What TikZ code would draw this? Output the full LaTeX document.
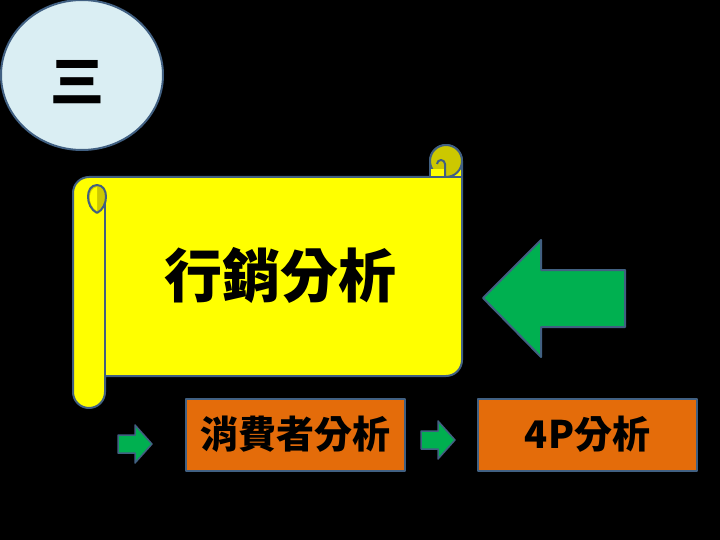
\documentclass[tikz,border=0pt]{standalone}
\usepackage{fontspec}
\newfontfamily\cjk{Noto Sans CJK TC}
\definecolor{edge}{RGB}{65,96,130}
\definecolor{sky}{RGB}{218,238,243}
\definecolor{paper}{RGB}{255,255,0}
\definecolor{curl}{RGB}{204,200,0}
\definecolor{leaf}{RGB}{0,176,80}
\definecolor{rust}{RGB}{228,108,10}
\tikzset{
outline/.style={draw=edge,line width=2pt,line join=round},
word/.style={font=\cjk\bfseries,text=black,inner sep=0pt},
box/.style={outline,fill=rust,minimum width=219pt,minimum height=72pt,font=\cjk\bfseries\fontsize{38}{38}\selectfont}
}
\begin{document}
\begin{tikzpicture}[x=1pt,y=-1pt]

\fill[black] (0,0) rectangle (720,540);
\useasboundingbox (0,0) rectangle (720,540);

\draw[outline,fill=sky] (82,75) ellipse (81 and 75);
\node[word,font=\cjk\bfseries\fontsize{54}{54}\selectfont] (num) at (77,82) {三};

\draw[outline,fill=paper] (73,193) arc (180:270:16) -- (430,177) -- (430,161) arc (180:360:16)
  -- (462,360) arc (0:90:16) -- (105,376) -- (105,392) arc (0:180:16) -- cycle;
\draw[outline,fill=curl] (446,161) circle (16);
\fill[paper] (431,169) rectangle (445,176);
\draw[outline] (430,177) -- (462,177);
\draw[outline] (445,177) -- (445,164) arc (0:-180:4);
\draw[outline,fill=curl] (97,213) .. controls (85,207) and (85,185) .. (97,185)
  .. controls (109,185) and (109,207) .. (97,213);
\fill[paper] (97,187) .. controls (88,188) and (87,205) .. (97,211) -- cycle;
\draw[outline] (105,202) -- (105,376);

\node[word,font=\cjk\bfseries\fontsize{58}{58}\selectfont] (title) at (280,275) {行銷分析};

\draw[outline,fill=leaf] (483,298) -- (541,240) -- (541,270) -- (625,270) -- (625,327)
  -- (541,327) -- (541,357) -- cycle;

\foreach \x/\y in {135/444, 438/440}{
\draw[outline,fill=leaf,line width=1.5pt] ({\x-17},{\y-9}) -- (\x,{\y-9}) -- (\x,{\y-19})
  -- ({\x+17},\y) -- (\x,{\y+19}) -- (\x,{\y+9}) -- ({\x-17},{\y+9}) -- cycle;
}

\node[box] (consumer) at (295,434.5) {消費者分析};
\node[box] (fourp) at (587.5,434.5) {4P分析};

\end{tikzpicture}
\end{document}
